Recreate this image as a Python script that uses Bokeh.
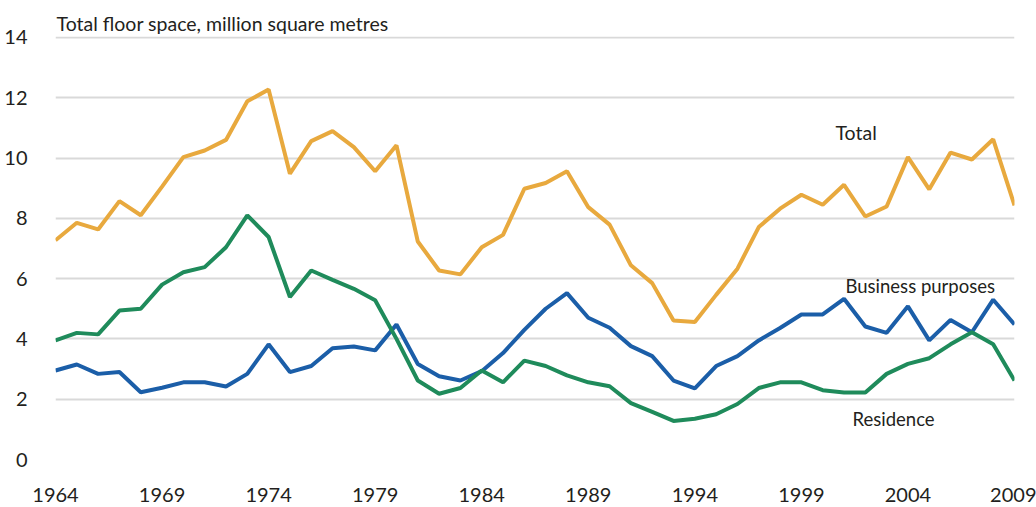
from bokeh.plotting import figure
from bokeh.models import Range1d, FixedTicker, Label
from bokeh.embed import file_html
from bokeh.resources import INLINE

years = list(range(1964, 2010))
total = [7.27, 7.85, 7.63, 8.57, 8.10, 9.05, 10.03, 10.25, 10.60, 11.88,
         12.27, 9.48, 10.56, 10.89, 10.36, 9.56, 10.42, 7.23, 6.27, 6.14,
         7.04, 7.45, 8.98, 9.17, 9.56, 8.37, 7.79, 6.44, 5.85, 4.61,
         4.56, 5.46, 6.33, 7.71, 8.32, 8.78, 8.45, 9.11, 8.06, 8.39,
         10.03, 8.96, 10.18, 9.95, 10.62, 8.43]
business = [2.95, 3.15, 2.84, 2.90, 2.23, 2.38, 2.56, 2.56, 2.42, 2.84,
            3.82, 2.90, 3.10, 3.69, 3.75, 3.62, 4.48, 3.17, 2.76, 2.62,
            2.93, 3.53, 4.30, 5.00, 5.52, 4.70, 4.37, 3.76, 3.43, 2.62,
            2.36, 3.10, 3.43, 3.95, 4.36, 4.81, 4.81, 5.33, 4.41, 4.20,
            5.08, 3.95, 4.63, 4.22, 5.30, 4.48]
residence = [3.95, 4.20, 4.15, 4.94, 5.00, 5.80, 6.21, 6.38, 7.04, 8.10,
             7.38, 5.39, 6.27, 5.96, 5.66, 5.28, 4.00, 2.62, 2.18, 2.37,
             2.95, 2.56, 3.28, 3.10, 2.79, 2.56, 2.43, 1.87, 1.58, 1.28,
             1.35, 1.50, 1.84, 2.37, 2.56, 2.56, 2.30, 2.22, 2.22, 2.84,
             3.17, 3.36, 3.82, 4.22, 3.82, 2.62]
x_ticks = [1964, 1969, 1974, 1979, 1984, 1989, 1994, 1999, 2004, 2009]
y_ticks = [0, 2, 4, 6, 8, 10, 12, 14]

FONT = "Lato"
TXT = "#231f20"
GOLD = "#E8A93E"
BLUE = "#1B5EA8"
GREEN = "#1F8B5B"

p = figure(frame_width=959, frame_height=423, output_backend="svg", toolbar_location=None,
           x_range=Range1d(1964, 2009), y_range=Range1d(0, 14.03),
           min_border_left=55, min_border_right=22, min_border_top=36,
           min_border_bottom=48)
p.outline_line_color = None
p.background_fill_color = "white"
p.border_fill_color = "white"

p.title.text = "Total floor space, million square metres"
p.title.align = "left"
p.title.offset = 1
p.title.text_font = FONT
p.title.text_font_size = "19.5px"
p.title.text_font_style = "normal"
p.title.text_color = TXT
p.title.standoff = 3

p.xgrid.grid_line_color = None
p.ygrid.grid_line_color = "#d9d9d9"
p.ygrid.grid_line_width = 2

for ax in (p.xaxis, p.yaxis):
    ax.axis_line_color = None
    ax.major_tick_line_color = None
    ax.minor_tick_line_color = None
    ax.major_label_text_font = FONT
    ax.major_label_text_font_size = "20px"
    ax.major_label_text_color = TXT

p.xaxis.ticker = FixedTicker(ticks=x_ticks)
p.yaxis.ticker = FixedTicker(ticks=y_ticks)
p.xaxis.major_label_standoff = 22
p.yaxis.major_label_standoff = 22

p.line(years, total, line_color=GOLD, line_width=4)
p.line(years, business, line_color=BLUE, line_width=4)
p.line(years, residence, line_color=GREEN, line_width=4)

LBL = "18.5px"
p.add_layout(Label(x=2000.6, y=10.85, text="Total", text_font=FONT, text_font_size="19.5px",
                   text_color=TXT, text_baseline="middle"))
p.add_layout(Label(x=2001.07, y=5.77, text="Business purposes", text_font=FONT,
                   text_font_size=LBL, text_color=TXT, text_baseline="middle"))
p.add_layout(Label(x=2001.4, y=1.33, text="Residence", text_font=FONT, text_font_size=LBL,
                   text_color=TXT, text_baseline="middle"))

open("out.html", "w").write(file_html(p, INLINE))
